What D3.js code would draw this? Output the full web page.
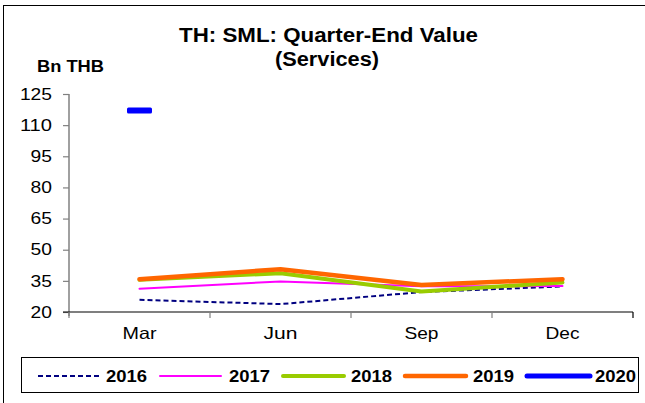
<!DOCTYPE html>
<html>
<head>
<meta charset="utf-8">
<script src="https://cdn.jsdelivr.net/npm/d3@7"></script>
<style>
  html, body { margin: 0; padding: 0; background: #fff; }
  svg { display: block; font-family: "Liberation Sans", Arial, sans-serif; }
</style>
</head>
<body>
<svg id="chart" width="645" height="403"></svg>
<script>
// Quarter-end value of services, billion THB
const quarters = ["Mar", "Jun", "Sep", "Dec"];
const yTicks = [20, 35, 50, 65, 80, 95, 110, 125];
const years = ["2016", "2017", "2018", "2019", "2020"];
const v2016 = [25.9, 23.8, 29.6, 32.3];
const v2017 = [31.2, 34.7, 32.4, 32.5];
const v2018 = [35.5, 38.7, 29.9, 34.2];
const v2019 = [35.8, 40.6, 33.0, 35.8];
const v2020 = [117.0, null, null, null];

const series = [
  { name: "2016", values: v2016, color: "#000080", width: 2, dash: "5,3" },
  { name: "2017", values: v2017, color: "#FF00FF", width: 2, dash: null },
  { name: "2018", values: v2018, color: "#99CC00", width: 4, dash: null },
  { name: "2019", values: v2019, color: "#FF6600", width: 4.5, dash: null },
  { name: "2020", values: v2020, color: "#0000FF", width: 5, dash: null }
];

const svg = d3.select("#chart");

// outer frame
svg.append("rect")
  .attr("x", 3.5).attr("y", 5.5).attr("width", 660).attr("height", 420)
  .attr("fill", "none").attr("stroke", "#000").attr("stroke-width", 1);

const plot = { left: 69, right: 633, top: 94, bottom: 312 };

const x = d3.scaleBand().domain(quarters).range([plot.left, plot.right]).padding(0);
const y = d3.scaleLinear().domain([20, 125]).range([plot.bottom, plot.top]);

// the text face is set wide: each label is fitted to a fixed run length
function wideText(sel, width) {
  sel.attr("textLength", width).attr("lengthAdjust", "spacingAndGlyphs");
}

// title
svg.append("text").attr("x", 328.5).attr("y", 42)
  .attr("text-anchor", "middle").attr("font-size", 20).attr("font-weight", "bold")
  .text("TH: SML: Quarter-End Value").call(wideText, 299);
svg.append("text").attr("x", 327).attr("y", 66)
  .attr("text-anchor", "middle").attr("font-size", 20).attr("font-weight", "bold")
  .text("(Services)").call(wideText, 104);

// unit label
svg.append("text").attr("x", 37).attr("y", 72)
  .attr("font-size", 16).attr("font-weight", "bold")
  .text("Bn THB").call(wideText, 67);

// y axis
const yAxis = svg.append("g")
  .attr("transform", `translate(${plot.left},0)`)
  .call(d3.axisLeft(y).tickValues(yTicks).tickSize(6).tickPadding(11));
yAxis.select(".domain").attr("stroke", "#808080").attr("stroke-width", 1.5)
  .attr("d", `M0,${plot.top}V${plot.bottom + 4}`);
yAxis.selectAll(".tick line").attr("stroke", "#808080").attr("stroke-width", 1.2);
yAxis.selectAll(".tick text").attr("font-size", 16.5).attr("fill", "#000")
  .attr("font-family", "Liberation Sans, Arial, sans-serif")
  .each(function(d) { wideText(d3.select(this), String(d).length * 10.7); });

// x axis
const xAxis = svg.append("g")
  .attr("transform", `translate(0,${plot.bottom})`)
  .call(d3.axisBottom(x).tickSize(0).tickPadding(15));
xAxis.select(".domain").attr("stroke", "#000").attr("stroke-width", 1.2)
  .attr("d", `M${plot.left - 6},0H${plot.right}`);
xAxis.selectAll(".tick text").attr("font-size", 16.5).attr("fill", "#000")
  .attr("font-family", "Liberation Sans, Arial, sans-serif")
  .call(wideText, 34);
// category boundary tick marks
const bounds = quarters.map(q => x(q)).concat([plot.right]);
xAxis.selectAll(".bound").data(bounds).enter().append("line")
  .attr("x1", d => d).attr("x2", d => d).attr("y1", 0).attr("y2", 6)
  .attr("stroke", d => d === plot.right ? "#000" : "#808080").attr("stroke-width", 1.2);

const cx = q => x(q) + x.bandwidth() / 2;

const line = d3.line()
  .defined(d => d.v !== null)
  .x(d => cx(d.q))
  .y(d => y(d.v));

series.forEach(s => {
  const pts = quarters.map((q, i) => ({ q, v: s.values[i] }));
  const valid = pts.filter(d => d.v !== null);
  if (valid.length > 1) {
    svg.append("path")
      .datum(pts)
      .attr("d", line)
      .attr("fill", "none")
      .attr("stroke", s.color)
      .attr("stroke-width", s.width)
      .attr("stroke-dasharray", s.dash)
      .attr("stroke-linejoin", "round")
      .attr("stroke-linecap", s.dash ? "butt" : "round");
  } else {
    // a lone quarter is shown as a short dash marker
    valid.forEach(d => {
      svg.append("rect")
        .attr("x", cx(d.q) - 12.5).attr("y", y(d.v) - 3)
        .attr("width", 25).attr("height", 6).attr("rx", 1.5)
        .attr("fill", s.color);
    });
  }
});

// legend
const legend = svg.append("g");
legend.append("rect")
  .attr("x", 21.5).attr("y", 357.5).attr("width", 617).attr("height", 35)
  .attr("fill", "#fff").attr("stroke", "#000").attr("stroke-width", 1);

const legendPos = [
  { x1: 38, x2: 99, tx: 106 },
  { x1: 160, x2: 221, tx: 229 },
  { x1: 283, x2: 344, tx: 351 },
  { x1: 405, x2: 466, tx: 473 },
  { x1: 527, x2: 590, tx: 595 }
];
series.forEach((s, i) => {
  const p = legendPos[i];
  legend.append("line")
    .attr("x1", p.x1).attr("x2", p.x2).attr("y1", 376).attr("y2", 376)
    .attr("stroke", s.color).attr("stroke-width", s.width)
    .attr("stroke-dasharray", s.dash)
    .attr("stroke-linecap", s.dash ? "butt" : "round");
  legend.append("text")
    .attr("x", p.tx).attr("y", 382)
    .attr("font-size", 16).attr("font-weight", "bold")
    .text(years[i]).call(wideText, 41);
});
</script>
</body>
</html>
